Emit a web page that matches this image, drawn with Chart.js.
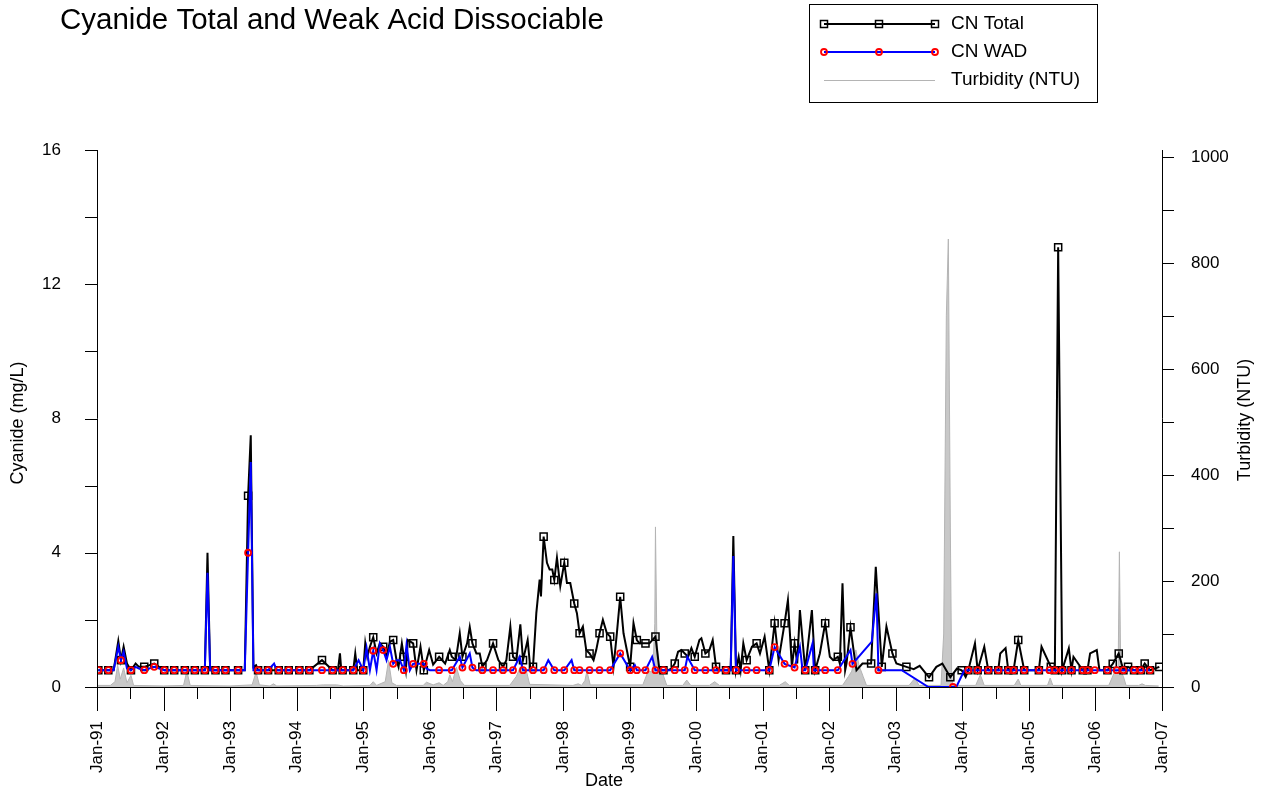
<!DOCTYPE html>
<html>
<head>
<meta charset="utf-8">
<script src="https://cdn.jsdelivr.net/npm/chart.js@4.4.1/dist/chart.umd.min.js"></script>
<style>
  html, body { margin: 0; padding: 0; background: #fff; }
  #chart { display: block; }
</style>
</head>
<body>
<canvas id="chart" width="1275" height="794"></canvas>
<script>
// dates are decimal years (1991.0 = Jan-91)

// tick labels
const yearTicks = [1991, 1992, 1993, 1994, 1995, 1996, 1997, 1998, 1999, 2000, 2001, 2002, 2003, 2004, 2005, 2006, 2007];
const cyanideTicks = [0, 4, 8, 12, 16];
const turbidityTicks = [0, 200, 400, 600, 800, 1000];

// CN Total, regular samples (drawn with a marker)
const totalSamples = [
  [1991.02, 0.5], [1991.17, 0.5], [1991.36, 0.8], [1991.51, 0.5], [1991.71, 0.6], [1991.86, 0.7],
  [1992.01, 0.5], [1992.16, 0.5], [1992.32, 0.5], [1992.47, 0.5], [1992.62, 0.5], [1992.78, 0.5],
  [1992.93, 0.5], [1993.12, 0.5], [1993.27, 5.7], [1993.42, 0.5], [1993.57, 0.5], [1993.73, 0.5],
  [1993.88, 0.5], [1994.04, 0.5], [1994.19, 0.5], [1994.38, 0.8], [1994.54, 0.5], [1994.69, 0.5],
  [1994.85, 0.5], [1995.00, 0.5], [1995.15, 1.48], [1995.30, 1.2], [1995.45, 1.4], [1995.61, 0.9],
  [1995.75, 1.3], [1995.91, 0.5], [1996.14, 0.9], [1996.33, 0.9], [1996.49, 0.9], [1996.64, 1.3],
  [1996.79, 0.6], [1996.95, 1.3], [1997.10, 0.6], [1997.25, 0.9], [1997.40, 0.8], [1997.55, 0.6],
  [1997.71, 4.48], [1997.87, 3.19], [1998.02, 3.7], [1998.17, 2.49], [1998.25, 1.6], [1998.40, 1.0],
  [1998.55, 1.6], [1998.71, 1.5], [1998.86, 2.69], [1999.01, 0.6], [1999.11, 1.4], [1999.24, 1.3],
  [1999.39, 1.5], [1999.51, 0.5], [1999.68, 0.7], [1999.83, 1.0], [1999.98, 0.9], [2000.14, 1.0],
  [2000.30, 0.6], [2000.45, 0.5], [2000.60, 0.5], [2000.76, 0.8], [2000.91, 1.3], [2001.10, 0.5],
  [2001.18, 1.9], [2001.33, 1.9], [2001.48, 1.3], [2001.64, 0.5], [2001.79, 0.5], [2001.94, 1.9],
  [2002.13, 0.9], [2002.32, 1.78], [2002.63, 0.7], [2002.79, 0.6], [2002.95, 1.0], [2003.16, 0.6],
  [2003.50, 0.29], [2003.82, 0.29], [2003.99, 0.5], [2004.09, 0.5], [2004.23, 0.5], [2004.39, 0.5],
  [2004.54, 0.5], [2004.69, 0.5], [2004.77, 0.5], [2004.84, 1.4], [2004.93, 0.5], [2005.15, 0.5],
  [2005.33, 0.6], [2005.39, 0.5], [2005.44, 13.1], [2005.50, 0.5], [2005.64, 0.5], [2005.81, 0.5],
  [2005.88, 0.5], [2006.18, 0.5], [2006.26, 0.69], [2006.35, 1.0], [2006.42, 0.5], [2006.49, 0.6],
  [2006.58, 0.5], [2006.68, 0.5], [2006.74, 0.7], [2006.82, 0.5], [2006.96, 0.6]
];

// CN Total, extra readings (line only)
const totalExtra = [
  [1991.25, 0.5], [1991.32, 1.37], [1991.40, 1.2], [1991.45, 0.7], [1991.58, 0.7], [1991.63, 0.6],
  [1992.66, 4.0], [1992.70, 0.5], [1993.22, 0.5], [1993.31, 7.5], [1993.35, 0.6], [1993.39, 0.65],
  [1994.62, 0.5], [1994.65, 1.0], [1994.67, 0.5], [1994.88, 1.0], [1994.91, 0.5],
  [1995.03, 1.3], [1995.06, 0.9], [1995.10, 1.2], [1995.20, 1.0], [1995.25, 1.3], [1995.35, 0.9],
  [1995.40, 1.35], [1995.50, 0.8], [1995.53, 0.6], [1995.58, 1.3], [1995.64, 0.5], [1995.67, 1.4],
  [1995.80, 0.5], [1995.86, 1.2], [1995.99, 1.1], [1996.05, 0.67], [1996.23, 0.7], [1996.30, 1.1],
  [1996.39, 0.8], [1996.45, 1.6], [1996.56, 1.3], [1996.60, 1.79], [1996.70, 1.0], [1996.75, 1.0],
  [1996.86, 0.8], [1997.03, 0.8], [1997.15, 0.8], [1997.21, 1.8], [1997.30, 0.8], [1997.36, 1.87],
  [1997.47, 1.4], [1997.51, 0.55], [1997.60, 2.2], [1997.65, 3.2], [1997.67, 2.7], [1997.76, 3.7],
  [1997.80, 3.5], [1997.84, 3.5], [1997.91, 3.85], [1997.96, 3.0], [1998.06, 3.1], [1998.11, 3.1],
  [1998.21, 2.2], [1998.30, 1.8], [1998.35, 1.1], [1998.46, 0.8], [1998.50, 1.1], [1998.60, 2.0],
  [1998.66, 1.6], [1998.76, 0.6], [1998.81, 1.6], [1998.91, 1.6], [1999.06, 1.9], [1999.15, 1.3],
  [1999.30, 1.3], [1999.45, 0.5], [1999.58, 0.5], [1999.63, 0.55], [1999.73, 1.05], [1999.78, 1.1],
  [1999.88, 0.9], [1999.93, 1.16], [2000.05, 1.4], [2000.08, 1.45], [2000.20, 1.1], [2000.25, 1.4],
  [2000.33, 0.5], [2000.52, 0.5], [2000.56, 4.5], [2000.64, 0.9], [2000.67, 0.5], [2000.71, 1.3],
  [2000.84, 1.2], [2000.96, 1.0], [2001.03, 1.5], [2001.24, 0.8], [2001.38, 2.59], [2001.44, 0.6],
  [2001.52, 0.7], [2001.56, 2.29], [2001.74, 2.29], [2001.86, 1.0], [2002.01, 0.9], [2002.06, 0.8],
  [2002.16, 0.7], [2002.20, 3.09], [2002.24, 0.5], [2002.26, 0.7], [2002.38, 0.9], [2002.41, 0.5],
  [2002.50, 0.7], [2002.70, 3.58], [2002.86, 1.8], [2003.01, 0.7], [2003.27, 0.53], [2003.36, 0.63],
  [2003.61, 0.6], [2003.70, 0.7], [2003.92, 0.55], [2004.05, 0.3], [2004.19, 1.3], [2004.33, 1.2],
  [2004.57, 1.0], [2004.65, 1.16], [2005.19, 1.2], [2005.60, 1.15], [2005.67, 0.9], [2005.92, 1.0],
  [2006.02, 1.1], [2006.06, 0.5]
];

// CN WAD, regular samples (drawn with a marker)
const wadSamples = [
  [1991.02, 0.5], [1991.17, 0.5], [1991.36, 0.8], [1991.51, 0.5], [1991.71, 0.5], [1991.86, 0.6],
  [1992.01, 0.5], [1992.16, 0.5], [1992.32, 0.5], [1992.47, 0.5], [1992.62, 0.5], [1992.78, 0.5],
  [1992.93, 0.5], [1993.12, 0.5], [1993.27, 4.0], [1993.42, 0.5], [1993.57, 0.5], [1993.73, 0.5],
  [1993.88, 0.5], [1994.04, 0.5], [1994.19, 0.5], [1994.38, 0.5], [1994.54, 0.5], [1994.69, 0.5],
  [1994.85, 0.5], [1995.00, 0.5], [1995.15, 1.08], [1995.30, 1.1], [1995.45, 0.69], [1995.61, 0.5],
  [1995.75, 0.69], [1995.91, 0.69], [1996.14, 0.5], [1996.33, 0.5], [1996.49, 0.58], [1996.64, 0.58],
  [1996.79, 0.5], [1996.95, 0.5], [1997.10, 0.5], [1997.25, 0.5], [1997.40, 0.5], [1997.55, 0.5],
  [1997.71, 0.5], [1997.87, 0.5], [1998.02, 0.5], [1998.17, 0.5], [1998.25, 0.5], [1998.40, 0.5],
  [1998.55, 0.5], [1998.71, 0.5], [1998.86, 1.0], [1999.01, 0.5], [1999.11, 0.5], [1999.24, 0.5],
  [1999.39, 0.5], [1999.51, 0.5], [1999.68, 0.5], [1999.83, 0.5], [1999.98, 0.5], [2000.14, 0.5],
  [2000.30, 0.5], [2000.45, 0.5], [2000.60, 0.5], [2000.76, 0.5], [2000.91, 0.5], [2001.10, 0.5],
  [2001.18, 1.19], [2001.33, 0.69], [2001.48, 0.58], [2001.64, 0.5], [2001.79, 0.5], [2001.94, 0.5],
  [2002.13, 0.5], [2002.35, 0.69], [2002.74, 0.5], [2003.86, 0.0], [2004.09, 0.5], [2004.23, 0.5],
  [2004.39, 0.5], [2004.54, 0.5], [2004.69, 0.5], [2004.77, 0.5], [2004.93, 0.5], [2005.15, 0.5],
  [2005.31, 0.5], [2005.39, 0.5], [2005.50, 0.5], [2005.64, 0.5], [2005.81, 0.5], [2005.88, 0.5],
  [2005.99, 0.5], [2006.18, 0.5], [2006.32, 0.5], [2006.42, 0.5], [2006.58, 0.5], [2006.68, 0.5],
  [2006.82, 0.5]
];

// CN WAD, extra readings (line only)
const wadExtra = [
  [1991.25, 0.5], [1991.32, 1.2], [1991.40, 1.05], [1991.45, 0.55], [1991.58, 0.6], [1991.63, 0.55],
  [1992.66, 3.4], [1992.70, 0.5], [1993.22, 0.5], [1993.31, 6.7], [1993.35, 0.5], [1993.66, 0.7],
  [1993.70, 0.5], [1994.93, 0.8], [1995.05, 1.16], [1995.10, 0.5], [1995.20, 0.5], [1995.25, 1.3],
  [1995.35, 0.8], [1995.40, 1.2], [1995.50, 0.8], [1995.55, 0.8], [1995.65, 1.25], [1995.70, 0.5],
  [1995.85, 0.69], [1995.95, 0.55], [1996.00, 0.5], [1996.45, 0.9], [1996.60, 1.0], [1996.70, 0.5],
  [1997.35, 0.9], [1997.78, 0.8], [1998.13, 0.8], [1999.08, 0.65], [1999.34, 0.9], [1999.87, 0.9],
  [2000.52, 0.5], [2000.56, 3.9], [2001.56, 1.2], [2001.60, 0.5], [2001.75, 1.3], [2001.77, 0.5],
  [2002.32, 1.1], [2002.64, 1.35], [2002.71, 2.79], [2003.09, 0.5], [2003.49, 0.0], [2003.91, 0.0],
  [2004.03, 0.5]
];

// Turbidity (NTU), right axis
const turbidity = [
  [1991.00, 3], [1991.20, 3], [1991.27, 10], [1991.31, 41], [1991.35, 15], [1991.40, 36],
  [1991.45, 8], [1991.51, 22], [1991.55, 3], [1992.00, 2], [1992.30, 3], [1992.35, 30],
  [1992.40, 3], [1993.00, 2], [1993.33, 4], [1993.39, 28], [1993.44, 4], [1993.60, 2],
  [1993.65, 6], [1993.70, 2], [1994.30, 3], [1994.40, 4], [1994.60, 4], [1994.70, 2],
  [1995.10, 3], [1995.15, 10], [1995.20, 3], [1995.33, 10], [1995.38, 50], [1995.43, 8],
  [1995.50, 3], [1995.90, 3], [1995.95, 9], [1996.05, 4], [1996.14, 8], [1996.20, 3],
  [1996.27, 10], [1996.30, 23], [1996.34, 10], [1996.40, 37], [1996.46, 12], [1996.52, 3],
  [1997.20, 3], [1997.30, 20], [1997.36, 38], [1997.44, 36], [1997.50, 5], [1998.15, 3],
  [1998.23, 6], [1998.28, 3], [1998.33, 12], [1998.36, 30], [1998.41, 4], [1999.20, 4],
  [1999.28, 30], [1999.35, 28], [1999.38, 120], [1999.39, 302], [1999.41, 100], [1999.44, 32],
  [1999.50, 25], [1999.56, 3], [1999.80, 3], [1999.86, 13], [1999.92, 3], [2000.20, 3],
  [2000.28, 10], [2000.35, 3], [2001.25, 3], [2001.34, 10], [2001.40, 3], [2002.20, 3],
  [2002.29, 20], [2002.34, 30], [2002.40, 70], [2002.45, 40], [2002.51, 20], [2002.56, 3],
  [2003.20, 3], [2003.29, 17], [2003.35, 3], [2003.68, 3], [2003.72, 100], [2003.76, 700],
  [2003.79, 845], [2003.82, 300], [2003.84, 20], [2003.86, 3], [2004.20, 3], [2004.27, 23],
  [2004.33, 3], [2004.78, 3], [2004.84, 15], [2004.88, 3], [2005.28, 3], [2005.32, 17],
  [2005.36, 3], [2006.20, 3], [2006.30, 32], [2006.34, 25], [2006.36, 255], [2006.38, 30],
  [2006.42, 20], [2006.46, 3], [2006.65, 3], [2006.70, 6], [2006.75, 3], [2006.95, 2]
];

const FONT = "'Liberation Sans', Arial, sans-serif";

function mergeSeries(samples, extra) {
  const pts = samples.map(([x, y]) => ({ x, y, sample: true }))
    .concat(extra.map(([x, y]) => ({ x, y, sample: false })));
  return pts.sort((a, b) => a.x - b.x);
}

const useTicks = (values) => (s) => { s.ticks = values.map((v) => ({ value: v })); };

// axis lines, major/minor ticks, title, legend and axis titles
const frame = {
  id: "frame",
  afterDraw: (chart) => {
    const { ctx, chartArea: a, scales } = chart;
    ctx.save();
    ctx.strokeStyle = "#000";
    ctx.lineWidth = 1;
    ctx.beginPath();
    ctx.moveTo(a.left + 0.5, a.top);
    ctx.lineTo(a.left + 0.5, a.bottom + 0.5);
    ctx.lineTo(a.right + 0.5, a.bottom + 0.5);
    ctx.lineTo(a.right + 0.5, a.top);
    for (let v = 1991; v <= 2007; v += 0.5) {
      const px = Math.round(scales.x.getPixelForValue(v)) + 0.5;
      ctx.moveTo(px, a.bottom);
      ctx.lineTo(px, a.bottom + (v % 1 === 0 ? 24 : 12));
    }
    for (let v = 0; v <= 16; v += 2) {
      const py = Math.round(scales.y.getPixelForValue(v)) + 0.5;
      ctx.moveTo(a.left, py);
      ctx.lineTo(a.left - 12, py);
    }
    for (let v = 0; v <= 1000; v += 100) {
      const py = Math.round(scales.y2.getPixelForValue(v)) + 0.5;
      ctx.moveTo(a.right, py);
      ctx.lineTo(a.right + 12, py);
    }
    ctx.stroke();

    // chart title
    ctx.fillStyle = "#000";
    ctx.font = "29.5px " + FONT;
    ctx.textAlign = "left";
    ctx.textBaseline = "alphabetic";
    ctx.fillText("Cyanide Total and Weak Acid Dissociable", 60, 29);

    // axis titles
    ctx.font = "18px " + FONT;
    ctx.textAlign = "center";
    ctx.textBaseline = "middle";
    ctx.fillText("Date", 604, 781);
    ctx.save();
    ctx.translate(18, 423);
    ctx.rotate(-Math.PI / 2);
    ctx.fillText("Cyanide (mg/L)", 0, 0);
    ctx.restore();
    ctx.save();
    ctx.translate(1245, 420);
    ctx.rotate(-Math.PI / 2);
    ctx.fillText("Turbidity (NTU)", 0, 0);
    ctx.restore();

    // legend box
    ctx.strokeRect(809.5, 4.5, 288, 98);
    const xs = [824, 879, 935];
    ctx.lineWidth = 2;
    ctx.strokeStyle = "#000";
    ctx.beginPath(); ctx.moveTo(xs[0], 24); ctx.lineTo(xs[2], 24); ctx.stroke();
    ctx.lineWidth = 1.5;
    xs.forEach((x) => ctx.strokeRect(x - 3.5, 20.5, 7, 7));
    ctx.lineWidth = 2;
    ctx.strokeStyle = "#0000ff";
    ctx.beginPath(); ctx.moveTo(xs[0], 52); ctx.lineTo(xs[2], 52); ctx.stroke();
    ctx.lineWidth = 1.8;
    ctx.strokeStyle = "#ff0000";
    xs.forEach((x) => { ctx.beginPath(); ctx.arc(x, 52, 3, 0, Math.PI * 2); ctx.stroke(); });
    ctx.lineWidth = 1;
    ctx.strokeStyle = "#b4b4b4";
    ctx.beginPath(); ctx.moveTo(xs[0], 80.5); ctx.lineTo(xs[2], 80.5); ctx.stroke();

    ctx.font = "19px " + FONT;
    ctx.textAlign = "left";
    ctx.fillStyle = "#000";
    ctx.fillText("CN Total", 951, 24);
    ctx.fillText("CN WAD", 951, 52);
    ctx.fillText("Turbidity (NTU)", 951, 80);
    ctx.restore();
  },
};

const tickFont = { family: FONT, size: 17 };

new Chart(document.querySelector("#chart").getContext("2d"), {
  type: "line",
  data: {
    datasets: [
      {
        label: "CN WAD",
        data: mergeSeries(wadSamples, wadExtra),
        yAxisID: "y",
        borderColor: "#0000ff",
        borderWidth: 2,
        tension: 0,
        pointStyle: "circle",
        pointRadius: (c) => (c.raw && c.raw.sample ? 3 : 0),
        pointBorderColor: "#ff0000",
        pointBackgroundColor: "rgba(0,0,0,0)",
        pointBorderWidth: 1.8,
      },
      {
        label: "CN Total",
        data: mergeSeries(totalSamples, totalExtra),
        yAxisID: "y",
        borderColor: "#000",
        borderWidth: 2,
        tension: 0,
        pointStyle: "rect",
        pointRadius: (c) => (c.raw && c.raw.sample ? 5 : 0),
        pointBorderColor: "#000",
        pointBackgroundColor: "rgba(0,0,0,0)",
        pointBorderWidth: 1.5,
      },
      {
        label: "Turbidity (NTU)",
        data: turbidity.map(([x, y]) => ({ x, y })),
        yAxisID: "y2",
        borderColor: "#b4b4b4",
        backgroundColor: "#c8c8c8",
        borderWidth: 1,
        fill: "origin",
        tension: 0,
        pointRadius: 0,
      },
    ],
  },
  options: {
    responsive: false,
    animation: false,
    events: [],
    layout: { padding: { top: 150, left: 0, right: 0, bottom: 0 } },
    plugins: { legend: { display: false }, tooltip: { enabled: false }, title: { display: false } },
    scales: {
      x: {
        type: "linear",
        min: 1991,
        max: 2007,
        grid: { display: false },
        border: { display: false },
        afterFit: (s) => { s.height = 107; },
        afterBuildTicks: useTicks(yearTicks),
        ticks: {
          autoSkip: false,
          minRotation: 90,
          maxRotation: 90,
          padding: 26,
          color: "#000",
          font: tickFont,
          callback: (v) => "Jan-" + String(v).slice(2),
        },
      },
      y: {
        position: "left",
        min: 0,
        max: 16,
        grid: { display: false },
        border: { display: false },
        afterFit: (s) => { s.width = 97; },
        afterBuildTicks: useTicks(cyanideTicks),
        ticks: { autoSkip: false, padding: 28, color: "#000", font: tickFont, callback: (v) => String(v) },
      },
      y2: {
        position: "right",
        min: 0,
        max: 1013,
        grid: { display: false },
        border: { display: false },
        afterFit: (s) => { s.width = 113; },
        afterBuildTicks: useTicks(turbidityTicks),
        ticks: { autoSkip: false, padding: 21, color: "#000", font: tickFont, callback: (v) => String(v) },
      },
    },
  },
  plugins: [frame],
});
</script>
</body>
</html>
